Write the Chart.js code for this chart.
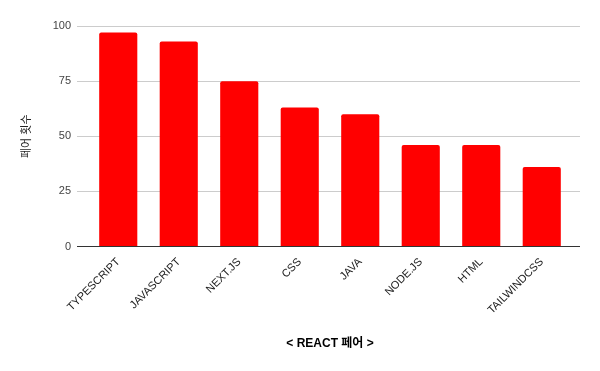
<!DOCTYPE html>
<html lang="ko">
<head>
<meta charset="UTF-8">
<title>REACT 페어</title>
<script src="https://cdn.jsdelivr.net/npm/chart.js"></script>
<style>
  html, body { margin: 0; padding: 0; background: #fff; }
  #wrap { width: 600px; height: 371px; position: relative; }
</style>
</head>
<body>
<div id="wrap"><canvas id="myChart"></canvas></div>
<script>
  // 데이터
  var categories = ['TYPESCRIPT', 'JAVASCRIPT', 'NEXT.JS', 'CSS', 'JAVA', 'NODE.JS', 'HTML', 'TAILWINDCSS'];
  var pairCounts = [97, 93, 75, 63, 60, 46, 46, 36];
  var yTicks = [0, 25, 50, 75, 100];

  var font = "Arial, 'Liberation Sans', 'Noto Sans CJK KR', sans-serif";

  // 0 라인은 진하게, 나머지는 연한 회색
  function gridColor(ctx) {
    return ctx.tick && ctx.tick.value === 0 ? '#333333' : '#cccccc';
  }
  function setTicks(scale) {
    scale.ticks = yTicks.map(function (v) { return { value: v }; });
  }

  new Chart(document.getElementById('myChart'), {
    type: 'bar',
    data: {
      labels: categories,
      datasets: [{
        label: '페어 횟수',
        data: pairCounts,
        backgroundColor: '#ff0000',
        borderRadius: 2,
        borderSkipped: 'bottom',
        barPercentage: 0.63,
        categoryPercentage: 1
      }]
    },
    options: {
      responsive: true,
      maintainAspectRatio: false,
      animation: false,
      layout: { padding: { top: 26, right: 20, bottom: 0, left: 20 } },
      plugins: {
        legend: { display: false },
        tooltip: { enabled: false }
      },
      scales: {
        x: {
          afterFit: function (scale) { scale.height = 124.5; },
          grid: { display: false, drawTicks: false },
          border: { display: false },
          ticks: {
            color: '#222222',
            font: { family: font, size: 11 },
            maxRotation: 45,
            minRotation: 45,
            padding: 9,
            autoSkip: false
          },
          title: {
            display: true,
            text: '< REACT 페어 >',
            color: '#000000',
            font: { family: font, size: 12, weight: 'bold' },
            padding: { top: 10, bottom: 20 }
          }
        },
        y: {
          min: 0,
          max: 100,
          afterBuildTicks: setTicks,
          afterFit: function (scale) { scale.width = 68; },
          grid: { color: gridColor, tickLength: 11, drawTicks: true },
          border: { display: false },
          ticks: {
            color: '#444444',
            font: { family: font, size: 11 },
            padding: 6
          },
          title: {
            display: true,
            text: '페어 횟수',
            color: '#222222',
            font: { family: font, size: 11 },
            padding: { top: 0, bottom: 14 }
          }
        },
        // 오른쪽으로 그리드 라인을 조금 연장하기 위한 보조 축
        y2: {
          position: 'right',
          min: 0,
          max: 100,
          afterBuildTicks: setTicks,
          afterFit: function (scale) { scale.width = 8; },
          grid: { color: gridColor, tickLength: 8, drawTicks: true, drawOnChartArea: false },
          border: { display: false },
          ticks: { display: false }
        }
      }
    }
  });
</script>
</body>
</html>
